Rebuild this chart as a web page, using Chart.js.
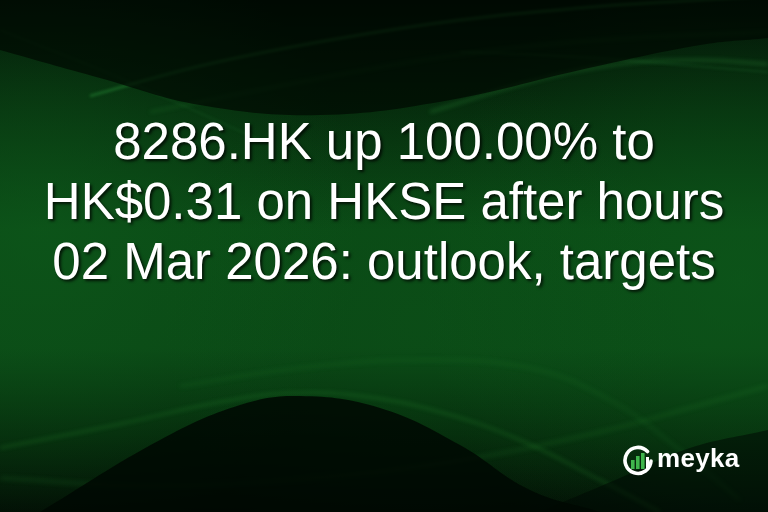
<!DOCTYPE html>
<html>
<head>
<meta charset="utf-8">
<script src="https://cdn.jsdelivr.net/npm/chart.js@4.4.1/dist/chart.umd.min.js"></script>
<style>
  html, body { margin: 0; padding: 0; background: #000; }
  #wrap { position: relative; width: 768px; height: 512px; overflow: hidden; }
  #bg { position: absolute; left: 0; top: 0; width: 768px; height: 512px; }
  #title {
    position: absolute; left: 0; top: 112px; width: 768px;
    text-align: center; color: #fff;
    font-family: "Liberation Sans", Arial, sans-serif; font-size: 51px; line-height: 60px;
    text-shadow: 2px 2px 3px rgba(0,0,0,0.75);
  }
  #logo { position: absolute; left: 622px; top: 446px; height: 30px; display: flex; align-items: center; }
  #logo span {
    color: #fff; font-family: "Liberation Sans", Arial, sans-serif; font-weight: bold;
    font-size: 26px; margin-left: 3px; margin-top: -6px; letter-spacing: 0.3px;
  }
</style>
</head>
<body>
<div id="wrap">
  <canvas id="bg" width="768" height="512"></canvas>
  <div id="title">8286.HK up 100.00% to<br>HK$0.31 on HKSE after hours<br>02 Mar 2026: outlook, targets</div>
  <div id="logo">
    <svg width="32" height="32" viewBox="0 0 32 32">
      <path d="M 25.5 6.5 A 13 13 0 1 0 29 16" fill="none" stroke="#fff" stroke-width="3.6" stroke-linecap="round"/>
      <rect x="9" y="15" width="3.6" height="9" fill="#3fb54c"/>
      <rect x="14" y="11" width="3.6" height="13" fill="#3fb54c"/>
      <rect x="19" y="8" width="3.6" height="16" fill="#3fb54c"/>
      <rect x="24" y="12" width="3" height="12" fill="#fff"/>
    </svg>
    <span>meyka</span>
  </div>
</div>
<script>
// Decorative wave shapes (x, y in pixels from top-left)
const topDarkX = [0, 100, 200, 320, 450, 580, 700, 768];
const topDarkY = [50, 78, 105, 115, 100, 70, 45, 38];
const hillDarkX = [40, 160, 240, 300, 380, 460, 530, 600];
const hillDarkY = [512, 440, 405, 396, 408, 445, 490, 512];
const cornerDarkX = [540, 620, 690, 768];
const cornerDarkY = [512, 478, 448, 430];
const streak1X = [90, 200, 330, 460, 580, 700, 768];
const streak1Y = [96, 66, 40, 20, 8, 0, -4];
const streak2X = [150, 300, 450, 600, 768];
const streak2Y = [112, 82, 56, 40, 32];
const streak3X = [430, 530, 620, 700, 768];
const streak3Y = [112, 82, 64, 60, 64];
const streak4X = [460, 560, 660, 768];
const streak4Y = [52, 56, 63, 72];
const streak5X = [0, 120, 260];
const streak5Y = [30, 78, 140];
const low1X = [0, 120, 220, 290, 360, 440, 520, 600, 660];
const low1Y = [448, 424, 402, 393, 396, 412, 440, 480, 512];
const low2X = [0, 150, 300, 450, 600, 700, 768];
const low2Y = [478, 486, 479, 462, 432, 405, 386];
const low3X = [180, 300, 420, 530, 610, 680, 740];
const low3Y = [386, 368, 360, 368, 400, 450, 500];

const pts = (xs, ys) => xs.map((x, i) => ({ x: x, y: ys[i] }));

const bgPlugin = {
  id: 'bgPaint',
  beforeDraw(chart) {
    const ctx = chart.ctx, w = chart.width, h = chart.height;
    ctx.save();
    const g = ctx.createLinearGradient(0, 0, 0, h);
    g.addColorStop(0, '#020c05');
    g.addColorStop(0.22, '#062c0d');
    g.addColorStop(0.45, '#0a4915');
    g.addColorStop(0.68, '#0a4715');
    g.addColorStop(0.85, '#05280b');
    g.addColorStop(1, '#020c04');
    ctx.fillStyle = g;
    ctx.fillRect(0, 0, w, h);
    const glow = (cx, cy, r, a) => {
      const rg = ctx.createRadialGradient(cx, cy, 0, cx, cy, r);
      rg.addColorStop(0, 'rgba(14,92,28,' + a + ')');
      rg.addColorStop(1, 'rgba(14,92,28,0)');
      ctx.fillStyle = rg;
      ctx.fillRect(0, 0, w, h);
    };
    glow(40, 230, 320, 0.55);
    glow(740, 280, 320, 0.55);
    glow(420, 320, 260, 0.25);
    ctx.restore();
  },
  beforeDatasetDraw(chart, args) {
    const ds = chart.data.datasets[args.index];
    chart.ctx.save();
    chart.ctx.filter = 'blur(' + (ds.blurPx || 0) + 'px)';
  },
  afterDatasetDraw(chart) {
    chart.ctx.restore();
  }
};

function darkSet(xs, ys, edge, color, blur) {
  return { data: pts(xs, ys), fill: { value: edge }, backgroundColor: color,
           borderWidth: 0, pointRadius: 0, tension: 0.4, blurPx: blur };
}
function lineSet(xs, ys, color, width, blur) {
  return { data: pts(xs, ys), fill: false, borderColor: color, borderWidth: width,
           pointRadius: 0, tension: 0.4, blurPx: blur };
}

new Chart(document.getElementById('bg'), {
  type: 'line',
  data: {
    datasets: [
      darkSet(topDarkX, topDarkY, 0, 'rgba(0,8,2,0.7)', 18),
      darkSet(hillDarkX, hillDarkY, 512, 'rgba(0,8,2,0.85)', 12),
      darkSet(cornerDarkX, cornerDarkY, 512, 'rgba(0,10,3,0.55)', 22),
      lineSet(streak1X, streak1Y, 'rgba(50,180,70,0.45)', 2, 1.5),
      lineSet(streak2X, streak2Y, 'rgba(50,170,65,0.22)', 2, 2),
      lineSet(streak3X, streak3Y, 'rgba(60,190,80,0.28)', 2.5, 2),
      lineSet(streak4X, streak4Y, 'rgba(60,190,80,0.18)', 1.5, 1.5),
      lineSet(streak5X, streak5Y, 'rgba(60,160,70,0.14)', 1.5, 1.5),
      lineSet(low1X, low1Y, 'rgba(50,170,60,0.3)', 2, 2),
      lineSet(low2X, low2Y, 'rgba(50,170,60,0.22)', 2.5, 2.5),
      lineSet(low3X, low3Y, 'rgba(50,170,60,0.16)', 2.5, 2.5)
    ]
  },
  options: {
    responsive: false,
    animation: false,
    events: [],
    layout: { padding: 0 },
    plugins: { legend: { display: false }, tooltip: { enabled: false } },
    scales: {
      x: { type: 'linear', min: 0, max: 768, display: false },
      y: { type: 'linear', min: 0, max: 512, reverse: true, display: false }
    }
  },
  plugins: [bgPlugin]
});
</script>
</body>
</html>
